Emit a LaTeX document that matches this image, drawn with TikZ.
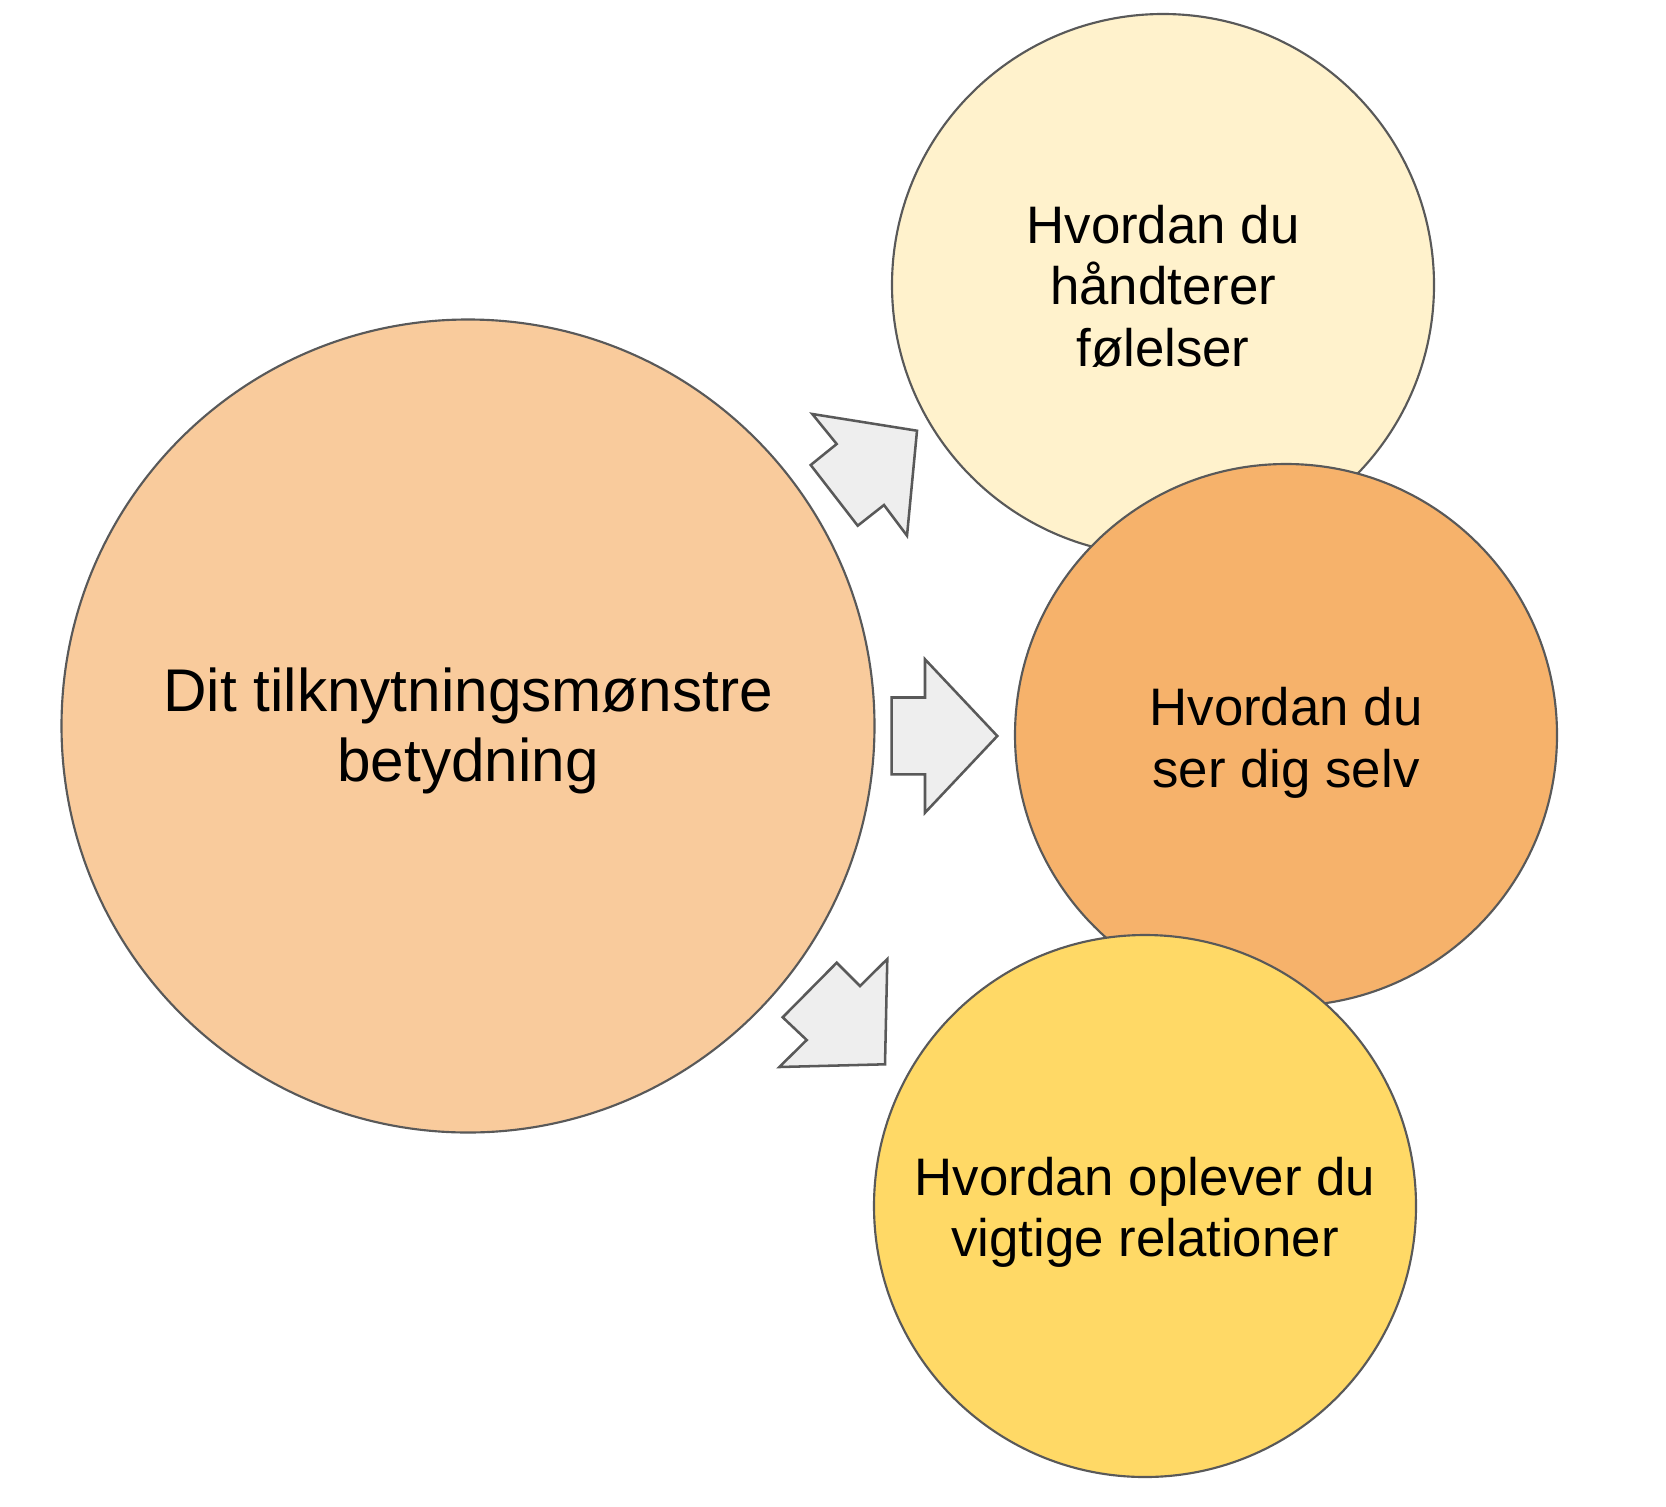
\documentclass[tikz,border=0pt]{standalone}
\usepackage{fontspec}
\setmainfont{Liberation Sans}
\definecolor{strokec}{HTML}{595959}
\definecolor{bigfill}{HTML}{F9CB9C}
\definecolor{topfill}{HTML}{FFF2CC}
\definecolor{midfill}{HTML}{F6B26B}
\definecolor{botfill}{HTML}{FFD966}
\definecolor{arrowfill}{HTML}{EEEEEE}
\begin{document}
\begin{tikzpicture}[x=0.75pt,y=-0.75pt,
  bubble/.style={circle,draw=strokec,line width=1.6pt,inner sep=0pt,minimum size=406.5pt},
  bigbubble/.style={bubble,minimum size=609.75pt},
  blockarrow/.style={draw=strokec,fill=arrowfill,line width=1.9pt,line join=miter},
  bigtext/.style={anchor=base,inner sep=0pt,font=\fontsize{45.2pt}{53pt}\selectfont},
  smalltext/.style={anchor=base,inner sep=0pt,font=\fontsize{39.6pt}{47pt}\selectfont}]
\useasboundingbox (0,0) rectangle (1666,1506);
\fill[white] (0,0) rectangle (1666,1506);
% circles
\node[bigbubble,fill=bigfill] (big) at (468,726) {};
\node[bubble,fill=topfill] (top) at (1163,285) {};
\node[bubble,fill=midfill] (mid) at (1286,735) {};
\node[bubble,fill=botfill] (bot) at (1145,1206) {};
% texts
\node[bigtext] (b1) at (468,711) {Dit tilknytningsmønstre};
\node[bigtext] (b2) at (468,781.7) {betydning};
\node[smalltext] (t1) at (1163,243.3) {Hvordan du};
\node[smalltext] (t2) at (1163,304.5) {håndterer};
\node[smalltext] (t3) at (1163,366.3) {følelser};
\node[smalltext] (m1) at (1286,725.5) {Hvordan du};
\node[smalltext] (m2) at (1286,787) {ser dig selv};
\node[smalltext] (o1) at (1145,1195) {Hvordan oplever du};
\node[smalltext] (o2) at (1145,1256.5) {vigtige relationer};
% block arrows
\draw[blockarrow] (812.3,414) -- (917,430.7) -- (907,535.7) -- (884,505) -- (857.7,525.7) -- (810.7,465) -- (836.7,444) -- cycle;
\draw[blockarrow] (891.7,697.5) -- (925,697.5) -- (925,659.3) -- (997.3,736) -- (925,812.7) -- (925,774.3) -- (891.7,774.3) -- cycle;
\draw[blockarrow] (836.7,962.7) -- (860,986) -- (887.3,959) -- (885,1064.3) -- (779.3,1067) -- (806.7,1040) -- (782.7,1017.3) -- cycle;
\end{tikzpicture}
\end{document}
